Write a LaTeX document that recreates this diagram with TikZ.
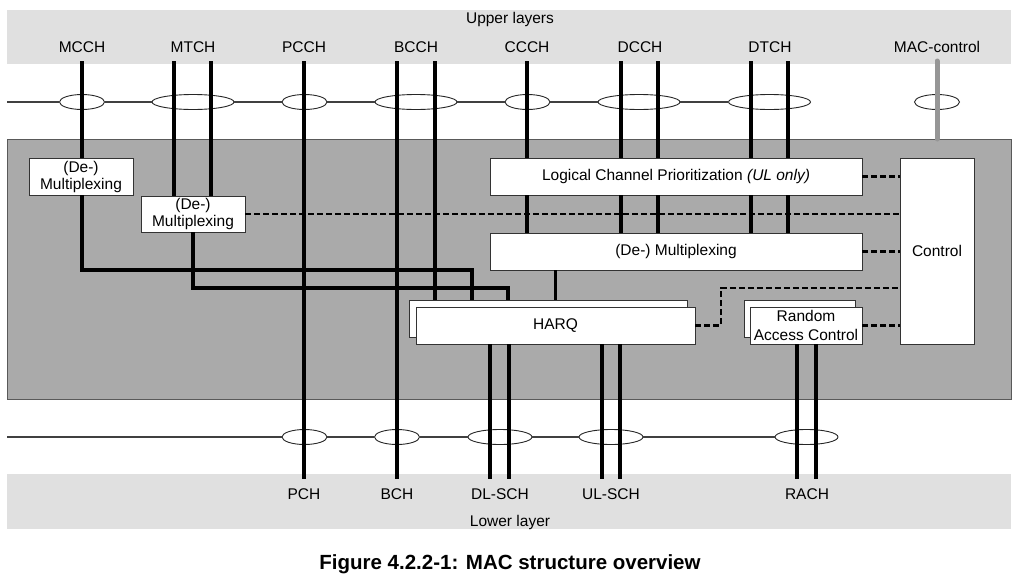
\documentclass[tikz,border=0pt]{standalone}
\usepackage{fontspec}
\setmainfont{Liberation Sans}
\usetikzlibrary{shapes.geometric}
\definecolor{layergray}{RGB}{224,224,224}
\definecolor{macgray}{RGB}{170,170,170}
\definecolor{ctlgray}{RGB}{150,150,150}
\tikzset{
	chlabel/.style={font=\fontsize{15.5}{18}\selectfont, inner sep=0pt},
	blk/.style={draw=black!80, fill=white, line width=0.9pt, inner sep=1pt, minimum height=37pt, align=center, font=\fontsize{15.5}{17}\selectfont},
	sap/.style={ellipse, draw=black!85, fill=white, line width=0.9pt, minimum height=15pt, inner sep=0pt},
	sapline/.style={line width=1.2pt, color=black!75},
	chline/.style={line width=3.2pt},
	ctlline/.style={line width=2.8pt, dash pattern=on 6pt off 3pt},
}

\begin{document}
\begin{tikzpicture}[x=1pt,y=-1pt]
	%%%%% START %%%%%
	\useasboundingbox (0,0) rectangle (1028,576);

	% layers above and below
	\fill[layergray] (7,10) rectangle (1011,64);
	\fill[layergray] (7,474) rectangle (1011,529);
	\node[chlabel, anchor=base] (upl) at (510,23) {Upper layers};
	\node[chlabel, anchor=base] (lowl) at (510,526) {Lower layer};

	% MAC entity
	\node[draw=black!65, fill=macgray, line width=1.2pt, anchor=north west, minimum width=1004pt, minimum height=260pt, inner sep=0pt] (mac) at (7,139) {};

	% channel end points
	\foreach \x in {82,174,211,304,397,435,527,621,658,751,788,937}
		\coordinate (t\x) at (\x,61);
	\foreach \x in {304,397,490,509,602,620,797,816}
		\coordinate (b\x) at (\x,479);
	\coordinate (ul) at (7,102);
	\coordinate (ll) at (7,437);
	\coordinate (mcch-k) at (472,270);
	\coordinate (mtch-k) at (508,288);
	\coordinate (hq-k) at (721,288);

	% logical channels
	\node[chlabel, anchor=base] (mcch) at (82,52) {MCCH};
	\node[chlabel, anchor=base] (mtch) at (193,52) {MTCH};
	\node[chlabel, anchor=base] (pcch) at (304,52) {PCCH};
	\node[chlabel, anchor=base] (bcch) at (416,52) {BCCH};
	\node[chlabel, anchor=base] (ccch) at (527,52) {CCCH};
	\node[chlabel, anchor=base] (dcch) at (640,52) {DCCH};
	\node[chlabel, anchor=base] (dtch) at (770,52) {DTCH};
	\node[chlabel, anchor=base] (macc) at (937,52) {MAC-control};

	% transport channels
	\node[chlabel, anchor=base] (pch) at (304,499) {PCH};
	\node[chlabel, anchor=base] (bch) at (397,499) {BCH};
	\node[chlabel, anchor=base] (dlsch) at (500,499) {DL-SCH};
	\node[chlabel, anchor=base] (ulsch) at (611,499) {UL-SCH};
	\node[chlabel, anchor=base] (rach) at (807,499) {RACH};

	% service access points
	\node[sap, minimum width=45pt] (mcch-e) at (82,102) {};
	\node[sap, minimum width=82pt] (mtch-e) at (193,102) {};
	\node[sap, minimum width=45pt] (pcch-e) at (304.5,102) {};
	\node[sap, minimum width=82pt] (bcch-e) at (416,102) {};
	\node[sap, minimum width=45pt] (ccch-e) at (527.5,102) {};
	\node[sap, minimum width=82pt] (dcch-e) at (639,102) {};
	\node[sap, minimum width=82pt] (dtch-e) at (769.5,102) {};
	\node[sap, minimum width=45pt] (macc-e) at (937,102) {};

	\node[sap, minimum width=45pt] (pch-e) at (304.5,437) {};
	\node[sap, minimum width=45pt] (bch-e) at (397,437) {};
	\node[sap, minimum width=64pt] (dlsch-e) at (500,437) {};
	\node[sap, minimum width=64pt] (ulsch-e) at (611,437) {};
	\node[sap, minimum width=63pt] (rach-e) at (806.5,437) {};

	\draw[sapline] (ul) -- (mcch-e) -- (mtch-e) -- (pcch-e) -- (bcch-e) -- (ccch-e) -- (dcch-e) -- (dtch-e);
	\draw[sapline] (ll) -- (pch-e) -- (bch-e) -- (dlsch-e) -- (ulsch-e) -- (rach-e);

	% function blocks
	\node[blk, minimum width=104pt] (mx1) at (81,176.5) {(De-)\\Multiplexing};
	\node[blk, minimum width=104pt, minimum height=36pt] (mx2) at (193,214) {(De-)\\Multiplexing};
	\node[blk, minimum width=372pt] (lcp) at (676,176.5) {Logical Channel Prioritization \textit{(UL only)}};
	\node[blk, minimum width=372pt] (mux) at (676,251.5) {(De-) Multiplexing};
	\node[blk, minimum width=74pt, minimum height=186pt] (ctrl) at (937,251) {Control};
	\node[blk, minimum width=278pt] (harqbk) at (548,318.5) {};
	\node[blk, minimum width=279pt] (harq) at (555.5,325.5) {HARQ};
	\node[blk, minimum width=111pt] (racbk) at (799.5,318.5) {};
	\node[blk, minimum width=112pt, font=\fontsize{15.5}{19}\selectfont] (rac) at (806,325.5) {Random\\Access Control};

	% data paths
	\draw[chline] (t82) -- (t82 |- mx1.north);
	\draw[chline] (t82 |- mx1.south) |- (mcch-k) -- (mcch-k |- harqbk.north);
	\foreach \x in {174,211}
		\draw[chline] (t\x) -- (t\x |- mx2.north);
	\draw[chline] (mx2.south) |- (mtch-k) -- (mtch-k |- harqbk.north);
	\draw[chline] (t304) -- (b304);
	\draw[chline] (t397) -- (b397);
	\draw[chline] (t435) -- (t435 |- harqbk.north);
	\foreach \x in {527,621,658,751,788} {
		\draw[chline] (t\x) -- (t\x |- lcp.north);
		\draw[chline] (t\x |- lcp.south) -- (t\x |- mux.north);
	}
	\draw[chline] (harq.north |- mux.south) -- (harq.north |- harqbk.north);
	\foreach \x in {490,509,602,620}
		\draw[chline] (b\x |- harq.south) -- (b\x);
	\foreach \x in {797,816}
		\draw[chline] (b\x |- rac.south) -- (b\x);
	\draw[line width=5pt, color=ctlgray, line cap=round] (t937) -- (t937 |- mac.north);

	% control paths
	\draw[ctlline] (lcp.east) -- (lcp.east -| ctrl.west);
	\draw[ctlline] (mx2.east) -- (mx2.east -| ctrl.west);
	\draw[ctlline] (mux.east) -- (mux.east -| ctrl.west);
	\draw[ctlline] (harq.east) -| (hq-k) -- (hq-k -| ctrl.west);
	\draw[ctlline] (rac.east) -- (rac.east -| ctrl.west);

	\node[font=\fontsize{20.5}{24}\selectfont\bfseries, anchor=base, inner sep=0pt] (caption) at (510,569) {Figure 4.2.2-1: MAC structure overview};
	%%%%% END %%%%%
\end{tikzpicture}
\end{document}
